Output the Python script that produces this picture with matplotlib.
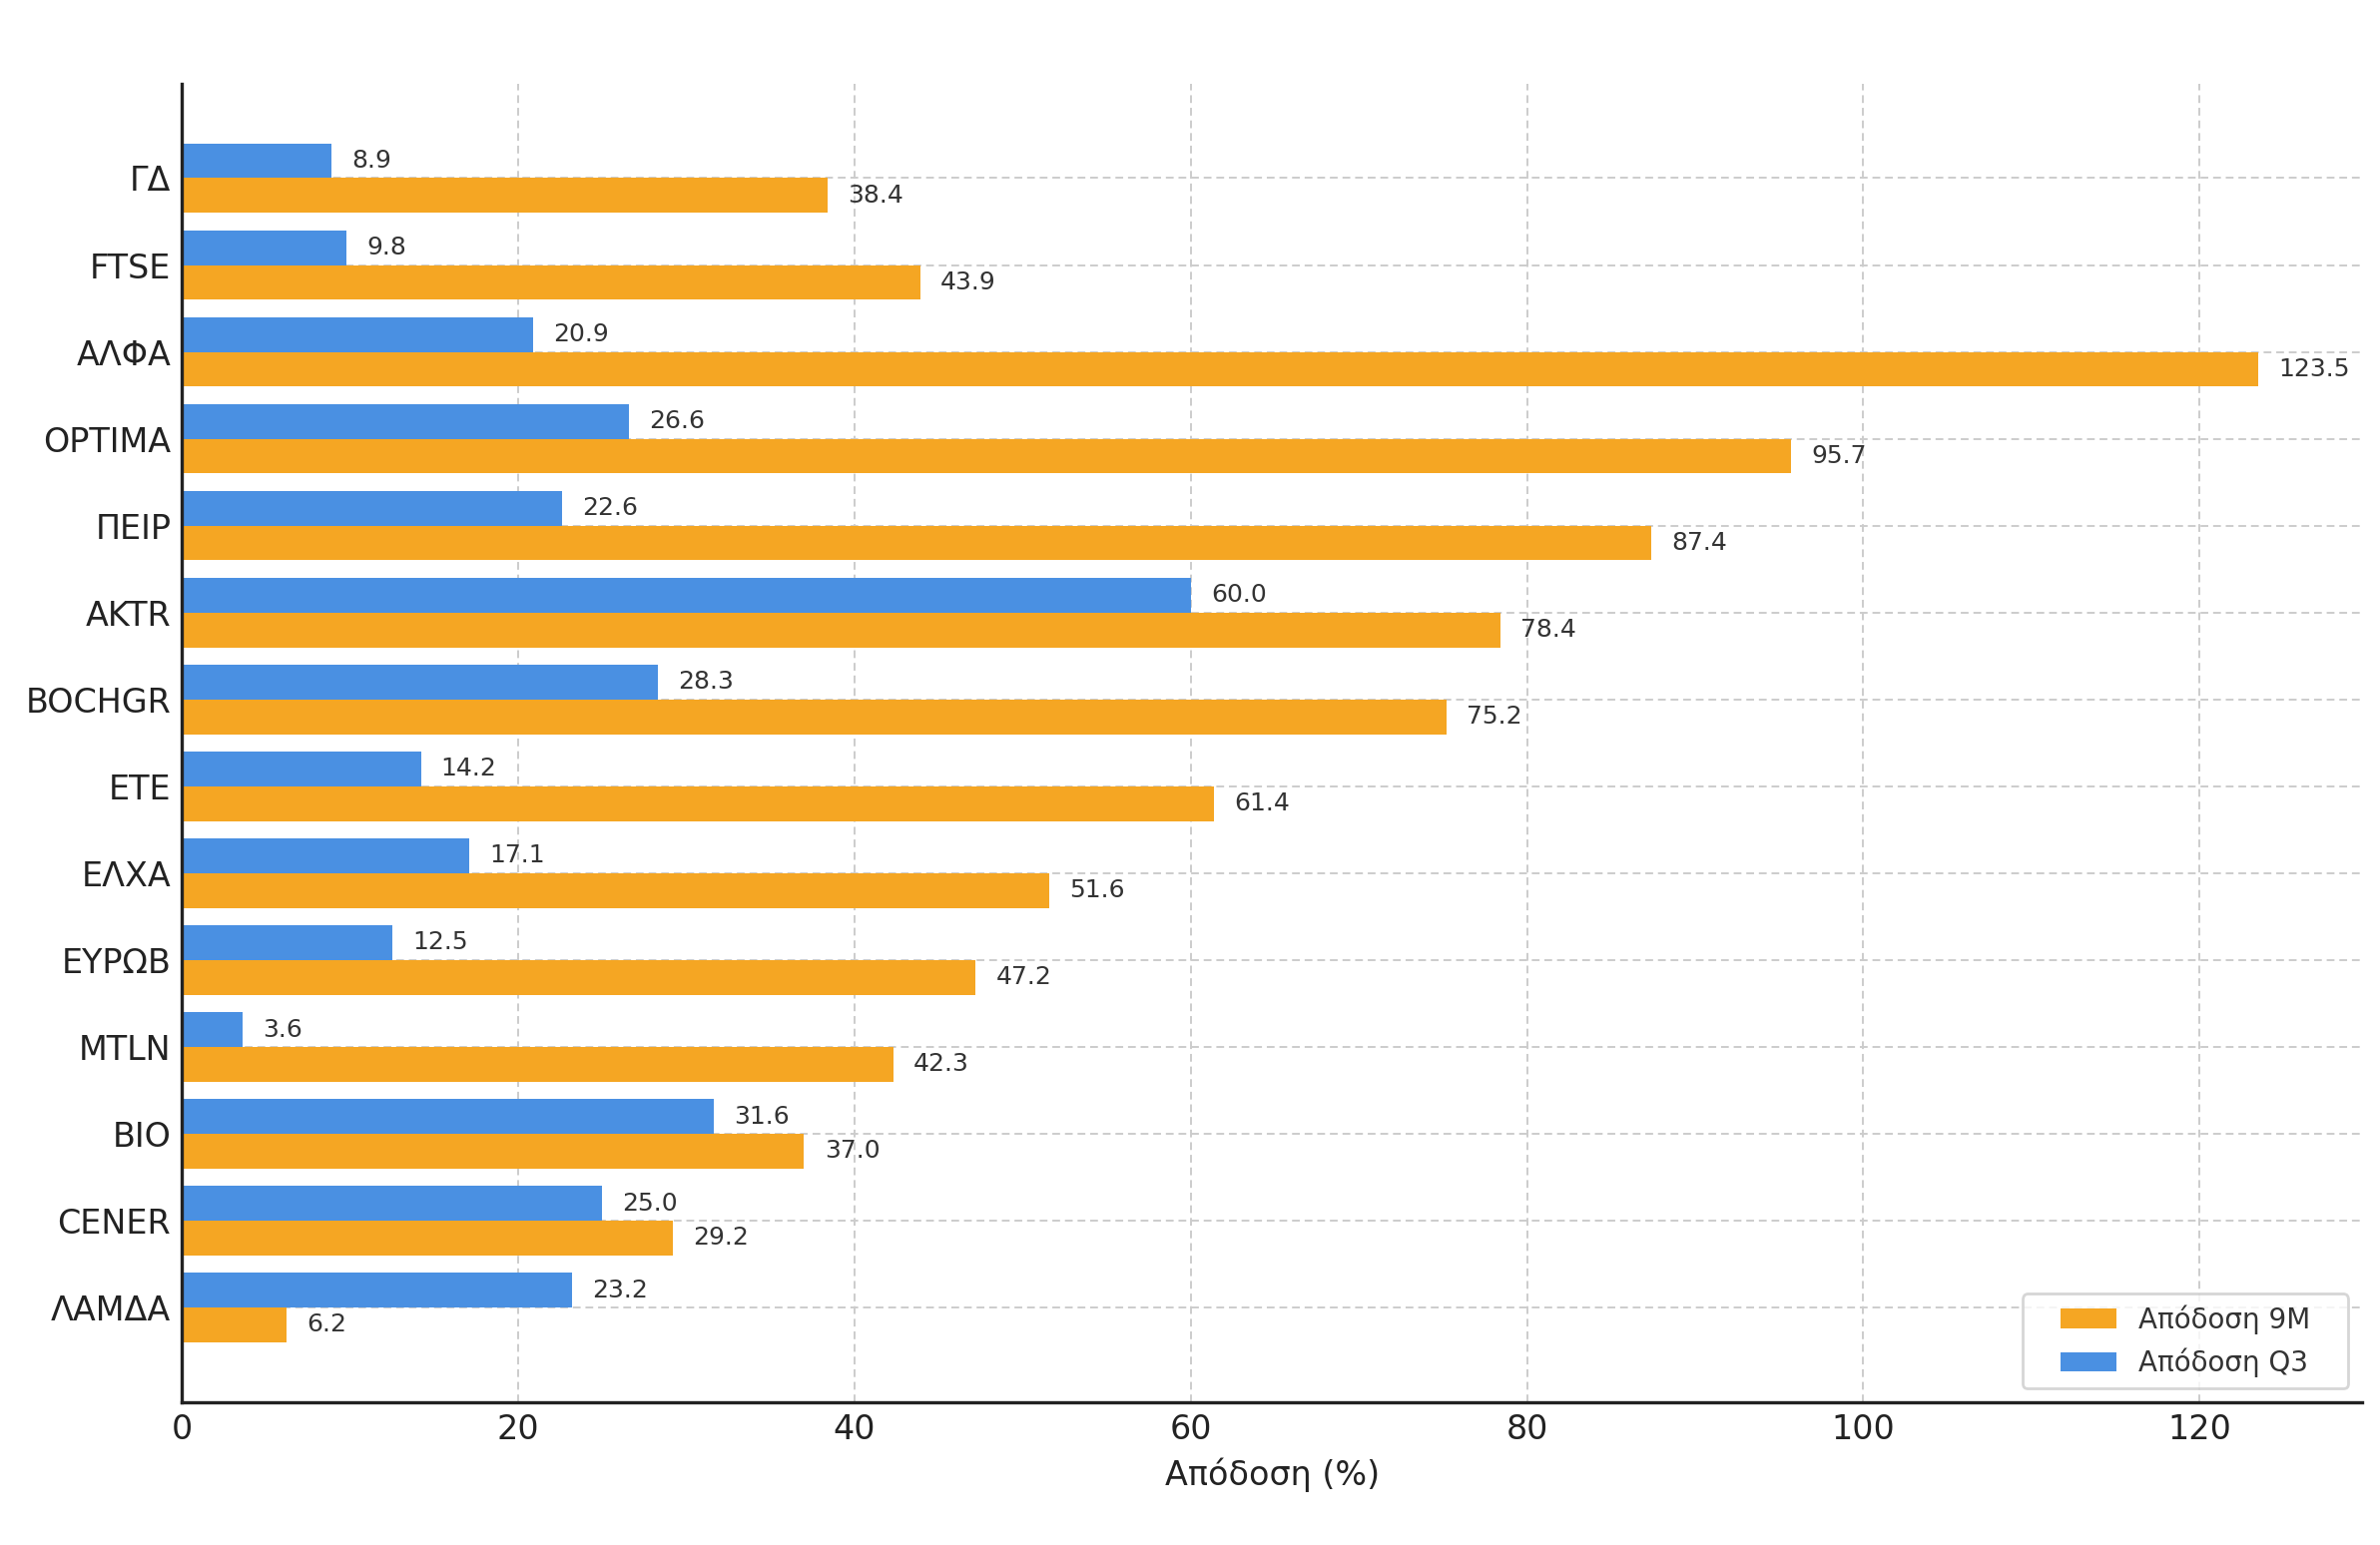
import numpy as np
import matplotlib
matplotlib.use("Agg")
import matplotlib.pyplot as plt
from matplotlib.legend_handler import HandlerPatch, update_from_first_child
from matplotlib.patches import Rectangle
from matplotlib.container import BarContainer

categories = ["ΓΔ", "FTSE", "ΑΛΦΑ", "OPTIMA", "ΠΕΙΡ", "AKTR", "BOCHGR", "ETE",
              "ΕΛΧΑ", "ΕΥΡΩΒ", "MTLN", "BIO", "CENER", "ΛΑΜΔΑ"]
q3_values = [8.9, 9.8, 20.9, 26.6, 22.6, 60.0, 28.3, 14.2, 17.1, 12.5, 3.6, 31.6, 25.0, 23.2]
m9_values = [38.4, 43.9, 123.5, 95.7, 87.4, 78.4, 75.2, 61.4, 51.6, 47.2, 42.3, 37.0, 29.2, 6.2]
x_ticks = [0, 20, 40, 60, 80, 100, 120]

ORANGE = "#F5A623"
BLUE = "#4A90E2"
TXT = "#222222"

plt.rcParams["font.family"] = ["DejaVu Sans"]

fig = plt.figure(figsize=(11.92, 7.74), dpi=200)
ax = fig.add_axes([0.0765, 0.0924, 0.916, 0.8536])

y = np.arange(len(categories))
h = 0.4
ax.barh(y + h / 2, m9_values, height=h, color=ORANGE, label="Απόδοση 9M   ", zorder=2)
ax.barh(y - h / 2, q3_values, height=h, color=BLUE, label="Απόδοση Q3   ", zorder=2)

for yi, v in zip(y, m9_values):
    ax.text(v + 1.2, yi + h / 2, f"{v:.1f}", va="center", ha="left", fontsize=9, color="#333333")
for yi, v in zip(y, q3_values):
    ax.text(v + 1.2, yi - h / 2, f"{v:.1f}", va="center", ha="left", fontsize=9, color="#333333")

ax.set_yticks(y)
ax.set_yticklabels(categories)
ax.set_xticks(x_ticks)
ax.invert_yaxis()

ax.tick_params(axis="both", length=0, labelsize=12, colors=TXT, pad=4)
ax.set_xlabel("Απόδοση (%)", fontsize=12, color=TXT)

ax.set_axisbelow(True)
ax.grid(True, linestyle=(0, (4, 2.5)), color="#cccccc", linewidth=0.7)

for s in ["top", "right"]:
    ax.spines[s].set_visible(False)
for s in ["left", "bottom"]:
    ax.spines[s].set_color(TXT)
    ax.spines[s].set_linewidth(1.2)


def padded_patch(legend, orig_handle, xdescent, ydescent, width, height, fontsize):
    extra = fontsize * 1.0
    return Rectangle((-xdescent + extra, -ydescent), width - extra, height)


leg = ax.legend(loc="lower right", fontsize=10, frameon=True, fancybox=True,
                handlelength=3.0,
                handler_map={BarContainer: HandlerPatch(patch_func=padded_patch,
                                                        update_func=update_from_first_child)})
leg.get_frame().set_edgecolor("#cccccc")
for t in leg.get_texts():
    t.set_color("#333333")

fig.savefig("out.png", dpi=200)
